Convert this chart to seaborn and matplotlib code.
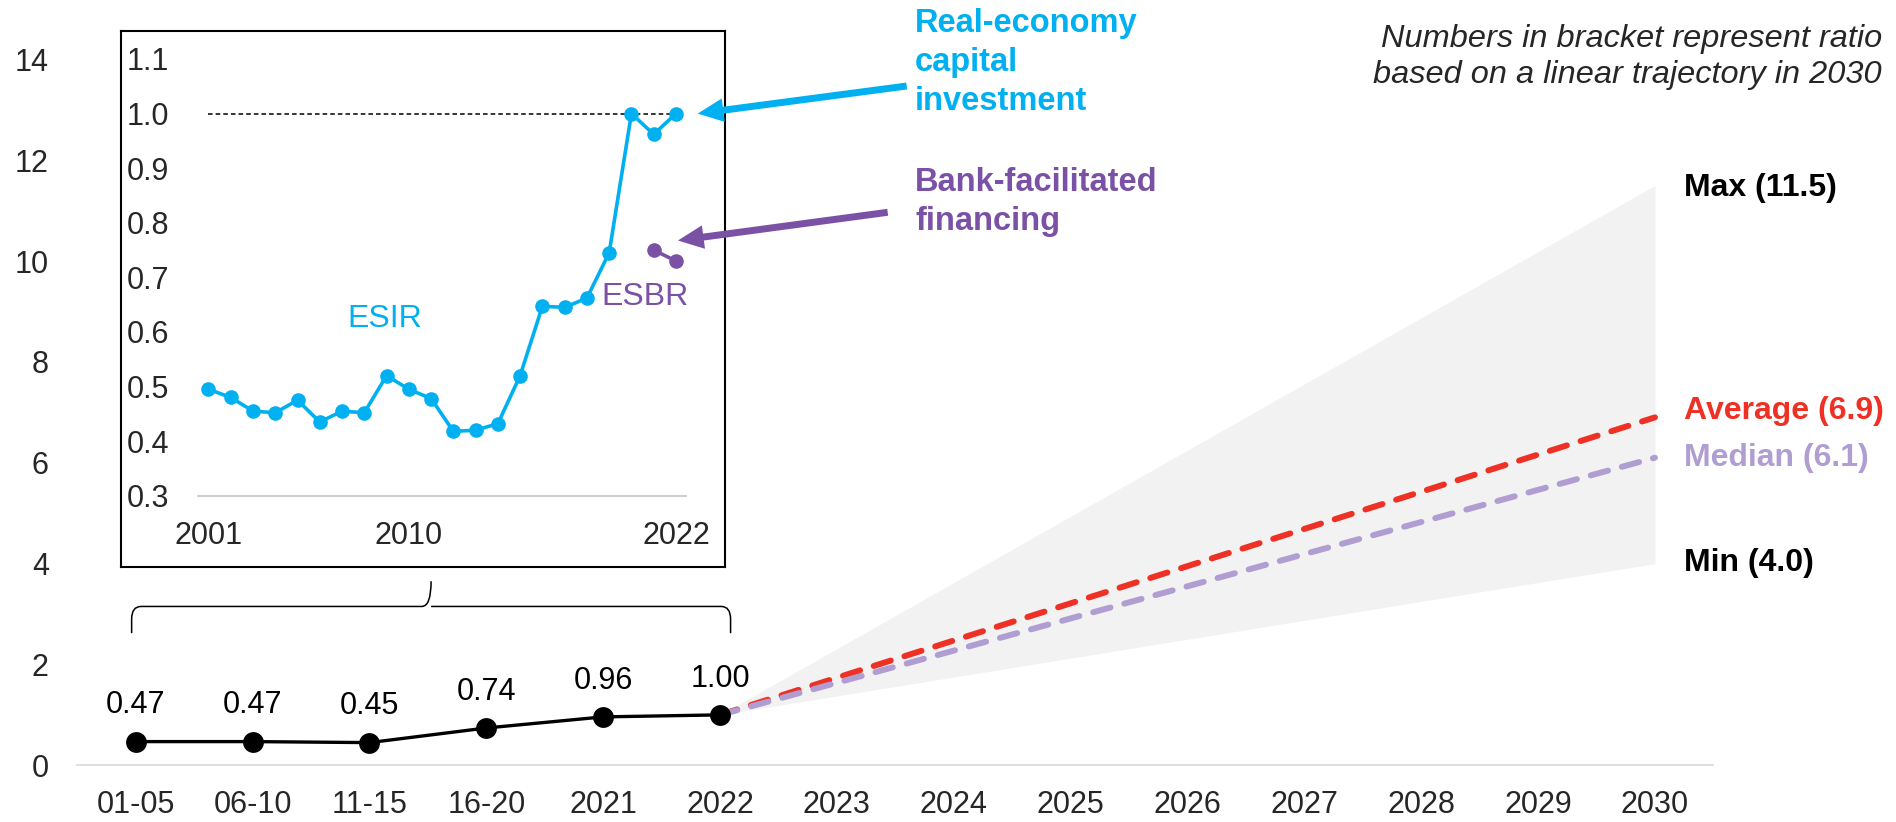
import numpy as np
import pandas as pd
import matplotlib
matplotlib.use("Agg")
import matplotlib.pyplot as plt
import seaborn as sns
from matplotlib.path import Path
from matplotlib.patches import PathPatch

# ---- data -------------------------------------------------------------
# Investment ratio: five-year averages, then single years
periods = ["01-05", "06-10", "11-15", "16-20", "2021", "2022"]
period_ratio = [0.47, 0.47, 0.45, 0.74, 0.96, 1.00]
future_years = ["2023", "2024", "2025", "2026", "2027", "2028", "2029", "2030"]

# Ratio reached in 2030 on a linear trajectory from 2022
scenario_names = ["Max", "Average", "Median", "Min"]
scenario_2030 = [11.5, 6.9, 6.1, 4.0]

# Annual energy supply investment ratio (ESIR)
esir_years = list(range(2001, 2023))
esir_values = [0.495, 0.48, 0.455, 0.452, 0.475, 0.435, 0.455, 0.452, 0.52, 0.495, 0.478,
               0.418, 0.42, 0.432, 0.52, 0.647, 0.645, 0.662, 0.745, 1.00, 0.962, 1.00]

# Energy supply banking ratio (ESBR)
esbr_years = [2021, 2022]
esbr_values = [0.75, 0.73]

# ---- style ------------------------------------------------------------
CYAN = "#00B0F0"
PURPLE = "#7A51A5"
RED = "#EE3124"
LAVENDER = "#B09DD2"
FILL = "#F2F2F2"
scenario_colors = {"Max": "black", "Average": RED, "Median": LAVENDER, "Min": "black"}
label_shift = {"Max": -2, "Average": 4.5, "Median": 0, "Min": 0.5}

sns.set_theme(style="white")
plt.rcParams["font.family"] = ["Liberation Sans", "DejaVu Sans"]

W, H = 1896, 822
fig = plt.figure(figsize=(W / 100, H / 100), dpi=100)

# ---- main chart -------------------------------------------------------
ax = fig.add_axes([77.3 / W, 1 - 765.3 / H, 1636.1 / W, 0.8711])
ax.set_facecolor("none")

categories = periods + future_years
xpos = np.arange(len(categories))
start_idx = len(periods) - 1
end_idx = len(categories) - 1
start_val = period_ratio[-1]

scen = dict(zip(scenario_names, scenario_2030))

# range of linear trajectories
ax.fill_between([start_idx, end_idx], [start_val, scen["Min"]], [start_val, scen["Max"]],
                color=FILL, lw=0, zorder=1)

for name in ["Average", "Median"]:
    proj = pd.DataFrame({"x": [start_idx, end_idx], "ratio": [start_val, scen[name]]})
    sns.lineplot(data=proj, x="x", y="ratio", ax=ax, color=scenario_colors[name],
                 lw=4.3, linestyle=(0, (3.0, 2.4)), dash_capstyle="round", zorder=3)

hist = pd.DataFrame({"x": xpos[:len(periods)], "ratio": period_ratio})
sns.lineplot(data=hist, x="x", y="ratio", ax=ax, color="black", lw=2.4,
             marker="o", markersize=15, markeredgewidth=0, zorder=5)

for x, v in zip(hist["x"], period_ratio):
    ax.annotate(f"{v:.2f}", (x, v), xytext=(0, 26), textcoords="offset points",
                ha="center", va="center", fontsize=22, color="black")

for name in scenario_names:
    v = scen[name]
    ax.annotate(f"{name} ({v:.1f})", (end_idx, v), xytext=(21, label_shift[name]),
                textcoords="offset points", ha="left", va="center", fontsize=23,
                fontweight="bold", color=scenario_colors[name], annotation_clip=False)

ax.set_xlim(-0.5, len(categories) - 0.5)
ax.set_ylim(0, 14.2)
ax.set_xticks(xpos, categories)
ax.set_yticks(np.arange(0, 15, 2))
ax.tick_params(axis="x", length=0, labelsize=22, pad=17.5)
ax.tick_params(axis="y", length=0, labelsize=22, pad=20.5)
ax.set_xlabel("")
ax.set_ylabel("")
for side in ["left", "top", "right"]:
    ax.spines[side].set_visible(False)
ax.spines["bottom"].set_color("#D9D9D9")
ax.spines["bottom"].set_linewidth(1.2)

# brace linking the yearly detail to the period axis
bx0, bx1 = -0.035, 5.09
bxc = (bx0 + bx1) / 2
y_tip, y_bar, y_peak = 2.62, 3.15, 3.65
rx, ry = 0.08, 0.25
verts = [(bx0, y_tip), (bx0, y_bar - ry), (bx0, y_bar), (bx0 + rx, y_bar),
         (bxc - rx, y_bar), (bxc, y_bar), (bxc, y_peak),
         (bxc, y_bar), (bxc + rx, y_bar), (bx1 - rx, y_bar), (bx1, y_bar), (bx1, y_bar - ry),
         (bx1, y_tip)]
codes = [Path.MOVETO, Path.LINETO, Path.CURVE3, Path.CURVE3,
         Path.LINETO, Path.CURVE3, Path.CURVE3,
         Path.MOVETO, Path.CURVE3, Path.LINETO, Path.CURVE3, Path.CURVE3,
         Path.LINETO]
ax.add_patch(PathPatch(Path(verts, codes), fill=False, lw=1.1, edgecolor="black",
                       clip_on=False, zorder=4))

# ---- inset: annual ratios ---------------------------------------------
ax_in = fig.add_axes([120.7 / W, 1 - 566.7 / H, 604 / W, 536 / H])
ax_in.set_facecolor("white")

ax_in.hlines(0.3, esir_years[0] - 0.5, esir_years[-1] + 0.5, color="#BFBFBF", lw=1.1, zorder=1)
ax_in.hlines(1.0, esir_years[0], esir_years[-1], color="black", lw=1.1,
             linestyles=(0, (3, 2)), zorder=2)

sns.lineplot(x=esir_years, y=esir_values, ax=ax_in, color=CYAN, lw=2.6,
             marker="o", markersize=10.5, markeredgewidth=0, zorder=3)
sns.lineplot(x=esbr_years, y=esbr_values, ax=ax_in, color=PURPLE, lw=2.6,
             marker="o", markersize=10.5, markeredgewidth=0, zorder=3)

ax_in.text(2008.9, 0.624, "ESIR", color=CYAN, fontsize=23, ha="center", va="center")
ax_in.text(2020.6, 0.664, "ESBR", color=PURPLE, fontsize=23, ha="center", va="center")

ax_in.set_xlim(1997.056, 2024.19)
ax_in.set_ylim(0.17, 1.1518)
yt = np.round(np.arange(0.3, 1.15, 0.1), 1)
ax_in.set_yticks(yt, [f"{v:.1f}" for v in yt], ha="left")
ax_in.set_xticks([2001, 2010, 2022], ["2001", "2010", "2022"], va="center")
ax_in.tick_params(axis="y", length=0, labelsize=22, pad=-4.5)
ax_in.tick_params(axis="x", length=0, labelsize=22, pad=-22)
ax_in.set_xlabel("")
ax_in.set_ylabel("")
for sp in ax_in.spines.values():
    sp.set_visible(True)
    sp.set_color("black")
    sp.set_linewidth(1.5)

# call-out arrows and their captions
ax_in.annotate("", xy=(2022.98, 1.0), xycoords="data",
               xytext=(906.7, H - 86), textcoords="figure pixels",
               arrowprops=dict(width=5, headwidth=17, headlength=18.5, color=CYAN,
                               lw=0, shrink=0),
               annotation_clip=False)
ax_in.annotate("", xy=(2022.09, 0.7675), xycoords="data",
               xytext=(887.7, H - 212.3), textcoords="figure pixels",
               arrowprops=dict(width=5, headwidth=17, headlength=18.5, color=PURPLE,
                               lw=0, shrink=0),
               annotation_clip=False)

fig.text(915 / W, 1 - 62.5 / H, "Real-economy\ncapital\ninvestment", color=CYAN,
         fontsize=23.5, fontweight="bold", ha="left", va="center", linespacing=1.34)
fig.text(915 / W, 1 - 202 / H, "Bank-facilitated\nfinancing", color=PURPLE,
         fontsize=23.5, fontweight="bold", ha="left", va="center", linespacing=1.34)
fig.text(1882 / W, 1 - 57 / H,
         "Numbers in bracket represent ratio\nbased on a linear trajectory in 2030",
         fontsize=23.4, style="italic", ha="right", va="center", linespacing=1.23)

fig.savefig("out.png", dpi=100)
